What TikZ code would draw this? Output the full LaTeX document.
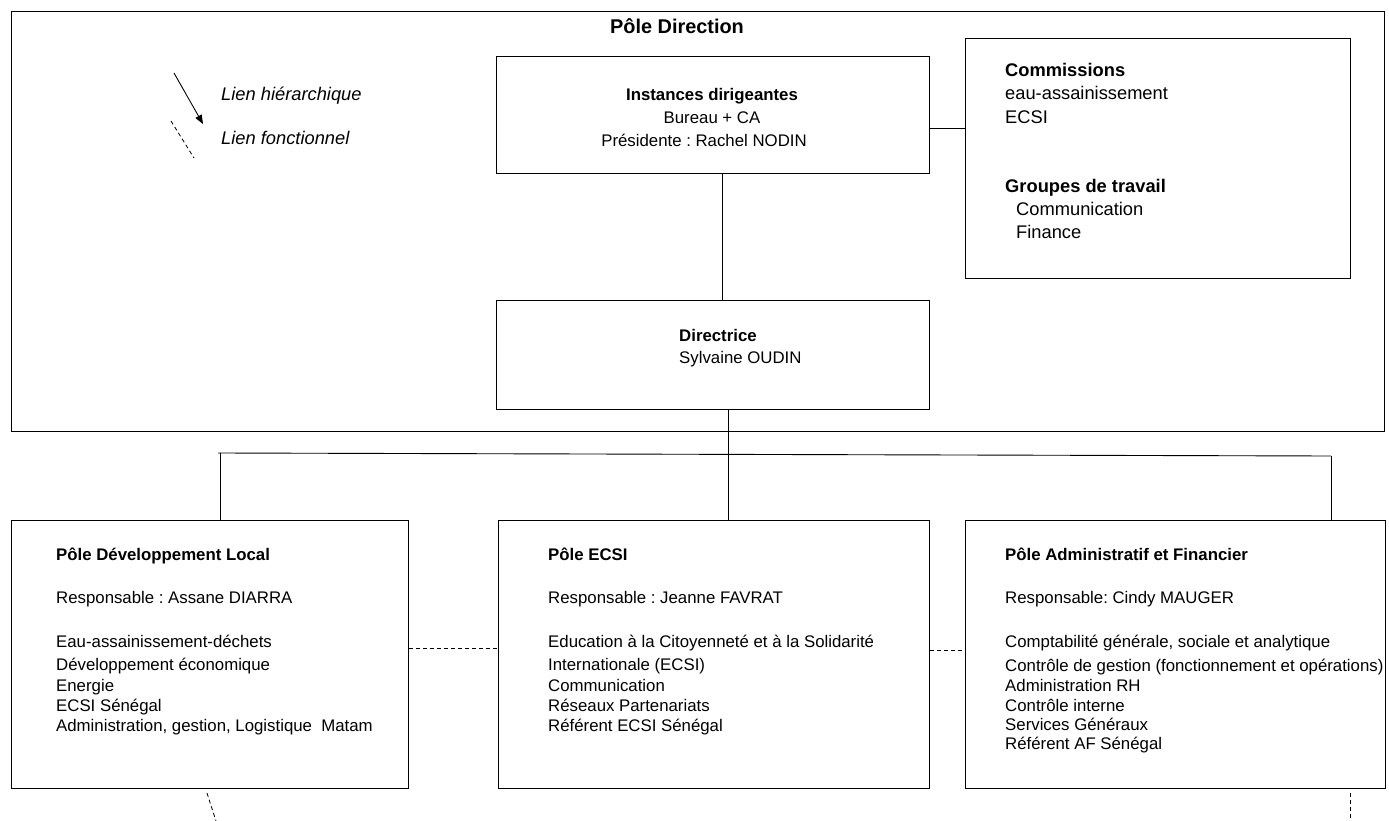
\documentclass[tikz,border=0pt]{standalone}
\usepackage{fontspec}
\setmainfont{Liberation Sans}
\usetikzlibrary{arrows.meta}
\frenchspacing
\begin{document}
\begin{tikzpicture}[x=1pt,y=-1pt,
  box/.style={draw, line width=0.9pt, inner sep=0pt, anchor=north west},
  txt/.style={inner sep=0pt, anchor=base west, font=\fontsize{16.8}{19}\selectfont},
  btxt/.style={txt, font=\fontsize{16.8}{19}\selectfont\bfseries},
  ltxt/.style={inner sep=0pt, anchor=base west, font=\fontsize{18.3}{21}\selectfont},
  lbtxt/.style={ltxt, font=\fontsize{18.3}{21}\selectfont\bfseries},
  itxt/.style={ltxt, font=\fontsize{18.3}{21}\selectfont\itshape},
  ttxt/.style={inner sep=0pt, anchor=base, font=\fontsize{19.9}{23}\selectfont\bfseries},
  link/.style={line width=0.9pt},
  flink/.style={line width=0.8pt, dash pattern=on 4pt off 3pt}]
\useasboundingbox (0,0) rectangle (1389,821);
\fill[white] (0,0) rectangle (1389,821);

% Pôle Direction frame
\node[box, minimum width=1373pt, minimum height=420pt] (dir) at (11,11) {};
\node[ttxt] (dirT) at (677,34) {Pôle Direction};

% legend
\coordinate (ha) at (174,73); \coordinate (hb) at (203,124);
\draw[link, -{Triangle[length=9pt,width=7pt]}] (ha) -- (hb);
\node[itxt] (hlab) at (221,101) {Lien hiérarchique};
\coordinate (fa) at (171,121); \coordinate (fb) at (194,158);
\draw[flink] (fa) -- (fb);
\node[itxt] (flab) at (221,145) {Lien fonctionnel};

% Instances dirigeantes
\node[box, minimum width=433pt, minimum height=117pt] (inst) at (496,56) {};
\node[btxt, anchor=base] (inst1) at (712,101) {Instances dirigeantes};
\node[txt, anchor=base] (inst2) at (712,124) {Bureau + CA};
\node[txt, anchor=base] (inst3) at (704,147) {Présidente : Rachel NODIN};

% Commissions
\node[box, minimum width=385pt, minimum height=240pt] (comm) at (965,38) {};
\node[lbtxt] (c1) at (1005,77) {Commissions};
\node[ltxt] (c2) at (1005,100) {eau-assainissement};
\node[ltxt] (c3) at (1005,124) {ECSI};
\node[lbtxt] (c4) at (1005,193) {Groupes de travail};
\node[ltxt] (c5) at (1016,215) {Communication};
\node[ltxt] (c6) at (1016,238) {Finance};

% Directrice
\node[box, minimum width=433pt, minimum height=109pt] (dirc) at (496,300) {};
\node[btxt] (d1) at (679,341) {Directrice};
\node[txt] (d2) at (679,363) {Sylvaine OUDIN};

% bottom poles
\node[box, minimum width=397pt, minimum height=268pt] (pDL) at (11,520) {};
\node[box, minimum width=431pt, minimum height=268pt] (pE) at (498,520) {};
\node[box, minimum width=420pt, minimum height=268pt] (pAF) at (965,520) {};

\node[btxt] (l1) at (56,560) {Pôle Développement Local};
\node[txt] (l2) at (56,603) {Responsable : Assane DIARRA};
\node[txt] (l3) at (56,647) {Eau-assainissement-déchets};
\node[txt] (l4) at (56,670) {Développement économique};
\node[txt] (l5) at (56,691) {Energie};
\node[txt] (l6) at (56,711) {ECSI Sénégal};
\node[txt] (l7) at (56,731) {Administration, gestion, Logistique\ \ Matam};

\node[btxt] (m1) at (548,560) {Pôle ECSI};
\node[txt] (m2) at (548,603) {Responsable : Jeanne FAVRAT};
\node[txt] (m3) at (548,647) {Education à la Citoyenneté et à la Solidarité};
\node[txt] (m4) at (548,670) {Internationale (ECSI)};
\node[txt] (m5) at (548,691) {Communication};
\node[txt] (m6) at (548,711) {Réseaux Partenariats};
\node[txt] (m7) at (548,731) {Référent ECSI Sénégal};

\node[btxt] (r1) at (1005,560) {Pôle Administratif et Financier};
\node[txt] (r2) at (1005,603) {Responsable: Cindy MAUGER};
\node[txt] (r3) at (1005,647) {Comptabilité générale, sociale et analytique};
\node[txt] (r4) at (1005,671) {Contrôle de gestion (fonctionnement et opérations)};
\node[txt] (r5) at (1005,691) {Administration RH};
\node[txt] (r6) at (1005,711) {Contrôle interne};
\node[txt] (r7) at (1005,730) {Services Généraux};
\node[txt] (r8) at (1005,749) {Référent AF Sénégal};

% connectors
\draw[link] ([yshift=-13.5pt]inst.east) -- ([yshift=-13.5pt]inst.east -| comm.west);
\draw[link] ([xshift=9.5pt]inst.south) -- ([xshift=9.5pt]inst.south |- dirc.north);
\draw[link] ([xshift=15pt]dirc.south) -- ([xshift=15pt]dirc.south |- pE.north);
\coordinate (hL) at (218,453); \coordinate (hR) at (1331,456);
\draw[link] (hL) -- (hR);
\draw[link] ([xshift=10.5pt]pDL.north) -- ([xshift=10.5pt]pDL.north |- hL);
\draw[link] ([xshift=156pt]pAF.north) -- ([xshift=156pt]pAF.north |- hR);
\draw[flink] ([yshift=6pt]pDL.east) -- ([yshift=6pt]pDL.east -| pE.west);
\draw[flink] ([yshift=4pt]pE.east) -- ([yshift=4pt]pE.east -| pAF.west);
\coordinate (dl1) at (207,793); \coordinate (dl2) at (216,821);
\draw[flink] (dl1) -- (dl2);
\coordinate (dr1) at (1350,793); \coordinate (dr2) at (1350,821);
\draw[flink] (dr1) -- (dr2);
\end{tikzpicture}
\end{document}
